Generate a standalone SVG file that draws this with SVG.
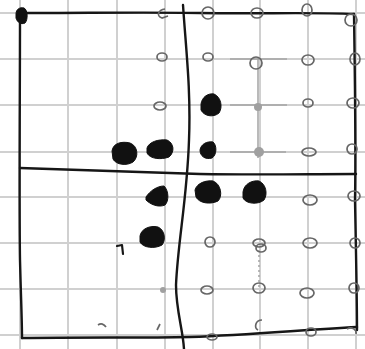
<svg xmlns="http://www.w3.org/2000/svg" width="365" height="349" viewBox="0 0 365 349">
<style>
.grid{stroke:#d0d0d0;stroke-width:2;fill:none}
.pencil{stroke:#a4a4a4;stroke-width:1.5;fill:none}
.ink{stroke:#161616;stroke-width:2.4;fill:none;stroke-linecap:round;stroke-linejoin:round}
.o{stroke:#666;stroke-width:1.7;fill:none}
.blob{fill:#111;stroke:#111;stroke-width:1}
.gdot{fill:#a0a0a0}
</style>
<rect width="365" height="349" fill="#fff"/>
<g id="grid" class="grid">
<path d="M20 0V349M68 0V349M117 0V349M165 0V349M213 0V349M260 0V349M308 0V349M356 0V349"/>
<path d="M0 13H365M0 59H365M0 105H365M0 152H365M0 197H365M0 243H365M0 289H365M0 335H365"/>
</g>
<g id="pencil" class="pencil">
<path d="M230 59H287M230 105H287M230 152H286M258 59V158"/>
<path d="M259 250V290" stroke-dasharray="2 3"/>
</g>
<g id="frame" class="ink">
<path d="M20 13 C 90 13 150 12 200 13 C 260 14 310 12 354 14"/>
<path d="M354 14 C 355 80 356 150 355 200 C 356 250 357 300 357 330"/>
<path d="M22 338 C 80 337 140 338 190 337 C 250 335 300 330 357 327"/>
<path d="M20 13 C 20 100 19 200 20 260 C 21 300 22 320 22 338"/>
<path d="M20 168 C 80 170 140 172 200 174 C 260 175 310 174 356 174"/>
<path d="M183 5 C 186 50 191 90 189 140 C 187 200 178 240 176 285 C 176 310 183 330 184 349"/>
</g>
<g id="filled">
<path class="blob" d="M16 14 C 16 9 20 7 24 8 C 28 10 28 20 25 23 C 21 25 17 22 16 18 Z"/>
<path class="blob" d="M112 151 C 113 143 122 141 130 143 C 138 146 139 157 133 162 C 127 166 116 165 113 159 Z"/>
<path class="blob" d="M147 148 C 149 142 158 139 167 140 C 174 143 175 152 169 157 C 161 160 150 159 147 153 Z"/>
<path class="blob" d="M200 150 C 201 144 207 141 213 142 C 217 145 217 155 212 158 C 205 160 200 156 200 150 Z"/>
<path class="blob" d="M201 104 C 202 97 208 93 214 94 C 221 97 223 107 219 113 C 213 118 204 116 201 110 Z"/>
<path class="blob" d="M146 197 C 150 191 157 186 164 186 C 169 191 169 201 165 205 C 158 208 150 204 146 200 Z"/>
<path class="blob" d="M195 190 C 197 183 206 180 213 181 C 221 184 223 196 218 201 C 210 205 199 203 196 197 Z"/>
<path class="blob" d="M243 192 C 244 184 252 180 259 181 C 266 184 268 194 264 200 C 258 205 246 204 243 198 Z"/>
<path class="blob" d="M140 236 C 141 229 150 225 158 227 C 165 230 166 240 162 245 C 155 249 143 248 140 242 Z"/>
<circle class="gdot" cx="258" cy="107" r="4"/>
<circle class="gdot" cx="259" cy="152" r="5"/>
<circle class="gdot" cx="163" cy="290" r="3"/>
</g>
<g id="open" class="o">
<path d="M165 9 C 158 10 156 16 162 18 L 168 16"/>
<ellipse cx="208" cy="13" rx="6" ry="6"/>
<ellipse cx="257" cy="13" rx="6" ry="5"/>
<ellipse cx="307" cy="10" rx="5" ry="6"/>
<ellipse cx="351" cy="20" rx="6" ry="6"/>
<ellipse cx="162" cy="57" rx="5" ry="4"/>
<ellipse cx="208" cy="57" rx="5" ry="4"/>
<ellipse cx="256" cy="63" rx="6" ry="6"/>
<ellipse cx="308" cy="60" rx="6" ry="5"/>
<ellipse cx="355" cy="59" rx="5" ry="6"/>
<ellipse cx="160" cy="106" rx="6" ry="4"/>
<ellipse cx="308" cy="103" rx="5" ry="4"/>
<ellipse cx="353" cy="103" rx="6" ry="5"/>
<ellipse cx="309" cy="152" rx="7" ry="4"/>
<ellipse cx="352" cy="149" rx="5" ry="5"/>
<ellipse cx="310" cy="200" rx="7" ry="5"/>
<ellipse cx="354" cy="196" rx="6" ry="5"/>
<ellipse cx="210" cy="242" rx="5" ry="5"/>
<ellipse cx="259" cy="243" rx="6" ry="4"/>
<ellipse cx="261" cy="248" rx="5" ry="4"/>
<ellipse cx="310" cy="243" rx="7" ry="5"/>
<ellipse cx="355" cy="243" rx="5" ry="5"/>
<ellipse cx="207" cy="290" rx="6" ry="4"/>
<ellipse cx="259" cy="288" rx="6" ry="5"/>
<ellipse cx="307" cy="293" rx="7" ry="5"/>
<ellipse cx="354" cy="288" rx="5" ry="5"/>
<path d="M262 320 C 255 320 254 328 258 330"/>
<ellipse cx="311" cy="332" rx="5" ry="4"/>
<path d="M347 329 C 352 326 357 330 356 334"/>
<ellipse cx="212" cy="337" rx="5" ry="3"/>
<path d="M98 325 C 101 323 104 324 106 327"/>
<path d="M157 330 L 160 324"/>
</g>
<g id="marks" class="ink">
<path d="M117 246 L 122 245 L 123 254" stroke-width="2.2"/>
</g>
</svg>
